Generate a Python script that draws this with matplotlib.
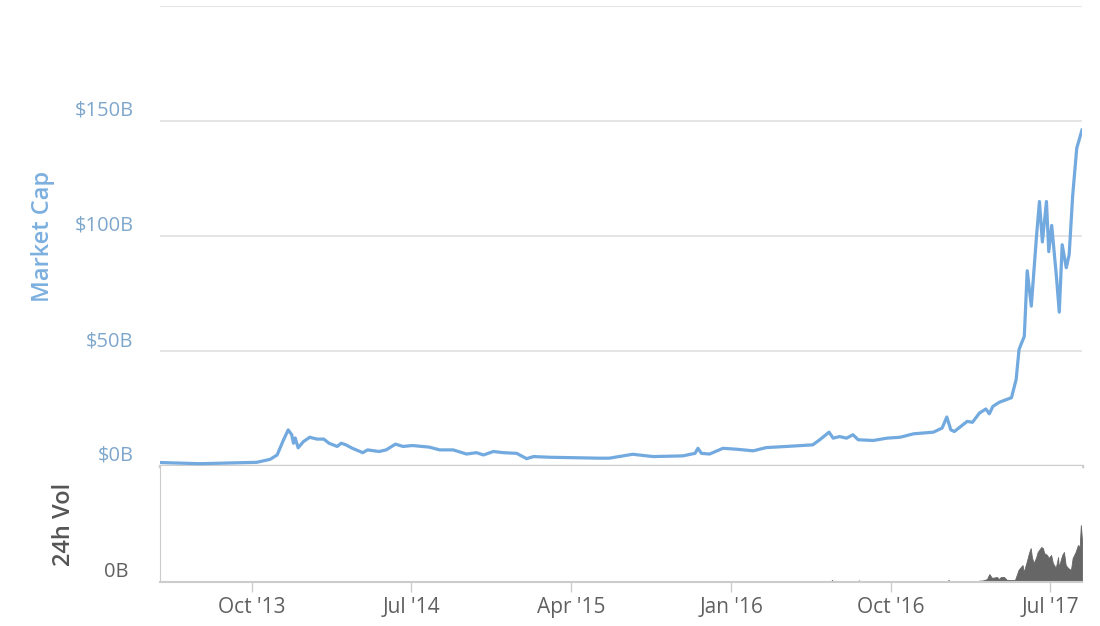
import matplotlib
matplotlib.use('Agg')
import matplotlib.pyplot as plt
import matplotlib.dates as mdates
import numpy as np

# total market cap, billions USD
cap_dates = [
    '2013-04-28', '2013-07-03', '2013-10-09', '2013-11-01', '2013-11-13', '2013-11-24',
    '2013-12-02', '2013-12-08', '2013-12-11', '2013-12-14', '2013-12-19', '2013-12-28',
    '2014-01-08', '2014-01-20', '2014-02-01', '2014-02-10', '2014-02-24', '2014-03-03',
    '2014-03-11', '2014-03-22', '2014-04-09', '2014-04-17', '2014-05-07', '2014-05-19',
    '2014-06-04', '2014-06-17', '2014-07-03', '2014-08-01', '2014-08-19', '2014-09-11',
    '2014-10-04', '2014-10-21', '2014-11-02', '2014-11-19', '2014-12-06', '2014-12-29',
    '2015-01-15', '2015-01-27', '2015-02-24', '2015-05-20', '2015-06-06', '2015-07-16',
    '2015-08-20', '2015-10-10', '2015-10-31', '2015-11-05', '2015-11-11', '2015-11-25',
    '2015-12-18', '2016-01-10', '2016-02-08', '2016-03-01', '2016-04-05', '2016-05-20',
    '2016-06-01', '2016-06-17', '2016-06-24', '2016-07-05', '2016-07-17', '2016-07-28',
    '2016-08-06', '2016-09-01', '2016-09-24', '2016-10-17', '2016-11-09', '2016-12-13',
    '2016-12-28', '2017-01-05', '2017-01-12', '2017-01-18', '2017-01-29', '2017-02-09',
    '2017-02-18', '2017-03-02', '2017-03-13', '2017-03-19', '2017-03-25', '2017-04-05',
    '2017-04-26', '2017-05-04', '2017-05-09', '2017-05-18', '2017-05-23', '2017-05-30',
    '2017-06-08', '2017-06-13', '2017-06-18', '2017-06-25', '2017-06-29', '2017-07-04',
    '2017-07-12', '2017-07-17', '2017-07-22', '2017-07-29', '2017-08-03', '2017-08-09',
    '2017-08-16', '2017-08-25',
]
cap_values = [
    1.5, 1.0, 1.6, 2.9, 4.8, 11.4,
    15.7, 13.6, 9.9, 12.2, 7.9, 10.6,
    12.5, 11.7, 11.7, 9.9, 8.5, 9.9,
    9.2, 7.7, 5.8, 7.0, 6.3, 7.0,
    9.5, 8.5, 8.9, 8.2, 7.0, 7.0,
    5.2, 5.8, 4.8, 6.3, 5.8, 5.5,
    3.2, 4.1, 3.8, 3.4, 3.4, 5.1,
    4.1, 4.4, 5.5, 7.7, 5.5, 5.2,
    7.7, 7.3, 6.6, 8.0, 8.5, 9.2,
    11.4, 14.7, 12.1, 12.8, 12.1, 13.6,
    11.4, 11.1, 12.1, 12.5, 14.0, 14.7,
    16.5, 21.3, 15.7, 15.0, 17.2, 19.4,
    19.0, 23.0, 24.8, 22.7, 25.9, 27.7,
    29.7, 37.6, 50.7, 56.4, 84.9, 69.5,
    100.1, 115.0, 97.4, 115.0, 93.2, 104.6,
    82.7, 66.9, 96.2, 86.2, 91.9, 117.6,
    138.2, 146.1,
]

# 24h volume, billions USD
vol_dates = [
    '2013-04-28', '2016-06-20', '2016-06-22', '2016-06-24', '2016-08-05', '2016-08-07',
    '2016-08-09', '2017-01-06', '2017-01-08', '2017-01-10', '2017-02-28', '2017-03-02',
    '2017-03-07', '2017-03-15', '2017-03-19', '2017-03-23', '2017-03-26', '2017-04-01',
    '2017-04-04', '2017-04-08', '2017-04-13', '2017-04-18', '2017-04-23', '2017-05-02',
    '2017-05-05', '2017-05-08', '2017-05-12', '2017-05-15', '2017-05-17', '2017-05-22',
    '2017-05-26', '2017-05-29', '2017-05-31', '2017-06-03', '2017-06-07', '2017-06-10',
    '2017-06-16', '2017-06-19', '2017-06-21', '2017-06-26', '2017-06-29', '2017-07-03',
    '2017-07-06', '2017-07-11', '2017-07-15', '2017-07-16', '2017-07-22', '2017-07-25',
    '2017-07-28', '2017-08-01', '2017-08-06', '2017-08-09', '2017-08-14', '2017-08-18',
    '2017-08-21', '2017-08-23', '2017-08-25',
]
vol_values = [
    0.0, 0.0, 0.15, 0.0, 0.0, 0.12,
    0.0, 0.0, 0.15, 0.0, 0.0, 0.1,
    0.1, 0.2, 0.55, 0.3, 0.3, 0.35,
    0.2, 0.35, 0.35, 0.15, 0.14, 0.14,
    0.48, 0.83, 1.03, 1.17, 0.69, 1.38,
    2.0, 2.34, 1.72, 1.31, 1.66, 2.07,
    2.41, 2.34, 2.0, 1.86, 1.66, 1.86,
    1.31, 0.97, 1.72, 1.03, 1.86, 2.07,
    1.17, 0.97, 0.83, 1.66, 2.07, 2.55,
    2.41, 3.93, 2.9,
]

tick_dates = ['2013-10-01', '2014-07-01', '2015-04-01', '2016-01-01', '2016-10-01', '2017-07-01']
cap_ticks = [0, 50, 100, 150]

x_start, x_end = '2013-04-26', '2017-08-25'

line_color = '#72a9de'
label_blue = '#7fa7cc'
grid_color = '#e3e3e3'
axis_color = '#cccccc'
text_gray = '#606060'

plt.rcParams['font.family'] = ['Open Sans', 'DejaVu Sans']

cap_x = np.array(cap_dates, dtype='datetime64[D]')
vol_x = np.array(vol_dates, dtype='datetime64[D]')

fig = plt.figure(figsize=(11, 6.26), dpi=100)
ax = fig.add_axes([160 / 1100, 1 - 466 / 626, 922 / 1100, 460 / 626])
axv = fig.add_axes([160 / 1100, 1 - 582 / 626, 922 / 1100, 116 / 626], sharex=ax)

# market cap panel
ax.plot(cap_x, cap_values, color=line_color, lw=2.3, solid_joinstyle='round', zorder=3)
ax.set_ylim(0, 200)
ax.set_yticks(cap_ticks + [200])
ax.set_yticklabels([f'${v}B' for v in cap_ticks] + [''])
ax.grid(True, axis='y', color=grid_color, lw=1.3)
ax.tick_params(axis='y', length=0, pad=19, labelsize=14.5, labelcolor=label_blue)
for lab in ax.get_yticklabels():
    lab.set_va('bottom')
ax.tick_params(axis='x', bottom=False, labelbottom=False)
for side in ['top', 'right', 'left']:
    ax.spines[side].set_visible(False)
ax.spines['bottom'].set_color(axis_color)
ax.spines['bottom'].set_linewidth(2.5)
ax.set_ylabel('Market Cap', color='#7cb0df', fontsize=17, fontweight='semibold')
ax.yaxis.set_label_coords(-0.114, 0.5)

# volume panel
axv.fill_between(vol_x, vol_values, 0, color='#666666', lw=0.6, edgecolor='#666666')
axv.set_ylim(0, 8)
axv.set_yticks([0])
axv.set_yticklabels(['0B'])
axv.tick_params(axis='y', length=0, pad=23, labelsize=14.5, labelcolor=text_gray)
for lab in axv.get_yticklabels():
    lab.set_va('bottom')
axv.set_xlim(np.datetime64(x_start), np.datetime64(x_end))
axv.set_xticks(np.array(tick_dates, dtype='datetime64[D]'))
axv.xaxis.set_major_formatter(mdates.DateFormatter("%b '%y"))
axv.tick_params(axis='x', direction='out', length=7, width=1, color=axis_color,
                labelsize=15, labelcolor=text_gray, pad=4)
for side in ['top', 'right']:
    axv.spines[side].set_visible(False)
axv.spines['left'].set_color(axis_color)
axv.spines['bottom'].set_color(axis_color)
axv.spines['bottom'].set_linewidth(1.5)
axv.set_ylabel('24h Vol', color='#555555', fontsize=17, fontweight='semibold')
axv.yaxis.set_label_coords(-0.091, 0.5)

plt.savefig('out.png', dpi=100)
plt.close()
